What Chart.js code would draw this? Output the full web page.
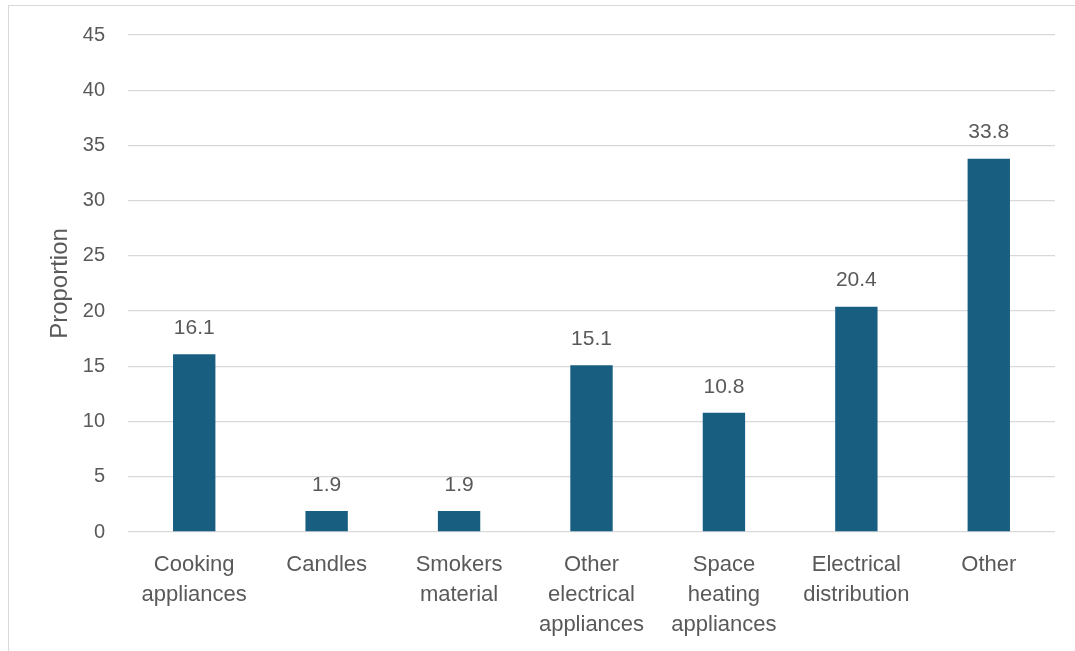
<!DOCTYPE html>
<html>
<head>
<meta charset="utf-8">
<script src="https://cdn.jsdelivr.net/npm/chart.js@4.4.1/dist/chart.umd.min.js"></script>
<style>
  html, body { margin: 0; padding: 0; background: #ffffff; overflow: hidden; }
  #frame {
    position: absolute; left: 8px; top: 5px; width: 1100px; height: 700px;
    border: 1px solid #d9d9d9; box-sizing: border-box;
  }
  #wrap { position: absolute; left: 0; top: 0; width: 1075px; height: 651px; }
</style>
</head>
<body>
<div id="frame"></div>
<div id="wrap"><canvas id="chart" width="1075" height="651"></canvas></div>
<script>
// Fire cause categories (multi-line labels) and their proportions
const categories = [
  ['Cooking', 'appliances'],
  ['Candles'],
  ['Smokers', 'material'],
  ['Other', 'electrical', 'appliances'],
  ['Space', 'heating', 'appliances'],
  ['Electrical', 'distribution'],
  ['Other']
];
const proportions = [16.1, 1.9, 1.9, 15.1, 10.8, 20.4, 33.8];
const yTicks = [0, 5, 10, 15, 20, 25, 30, 35, 40, 45];

const textGray = '#595959';
const barColor = '#175e80';
const fontFamily = '"Liberation Sans", Arial, sans-serif';

// Writes each bar's value above it
const valueLabels = {
  id: 'valueLabels',
  afterDatasetsDraw(chart) {
    const ctx = chart.ctx;
    const meta = chart.getDatasetMeta(0);
    ctx.save();
    ctx.fillStyle = textGray;
    ctx.font = '21px ' + fontFamily;
    ctx.textAlign = 'center';
    ctx.textBaseline = 'middle';
    meta.data.forEach((bar, i) => {
      ctx.fillText(proportions[i].toFixed(1), bar.x, bar.y - 26);
    });
    ctx.restore();
  }
};

new Chart(document.getElementById('chart'), {
  type: 'bar',
  data: {
    labels: categories,
    datasets: [{
      data: proportions,
      backgroundColor: barColor,
      borderWidth: 0,
      categoryPercentage: 1.0,
      barPercentage: 0.32
    }]
  },
  options: {
    responsive: false,
    animation: false,
    events: [],
    layout: { padding: { left: 0, right: 20, top: 33, bottom: 0 } },
    plugins: {
      legend: { display: false },
      tooltip: { enabled: false }
    },
    scales: {
      x: {
        grid: { display: false, drawTicks: false },
        border: { display: false },
        ticks: {
          color: textGray,
          padding: 18,
          maxRotation: 0,
          autoSkip: false,
          font: { family: fontFamily, size: 22, lineHeight: 1.36 }
        },
        afterFit(scale) { scale.height = 651 - 532; }
      },
      y: {
        min: 0,
        max: 45,
        afterBuildTicks(scale) { scale.ticks = yTicks.map(v => ({ value: v })); },
        grid: { color: '#d9d9d9', lineWidth: 1.3, drawTicks: false },
        border: { display: false },
        ticks: {
          color: textGray,
          padding: 23,
          font: { family: fontFamily, size: 20 }
        },
        title: {
          display: true,
          text: 'Proportion',
          color: textGray,
          padding: { top: 46, bottom: 0 },
          font: { family: fontFamily, size: 24 }
        },
        afterFit(scale) { scale.width = 128; }
      }
    }
  },
  plugins: [valueLabels]
});
</script>
</body>
</html>
